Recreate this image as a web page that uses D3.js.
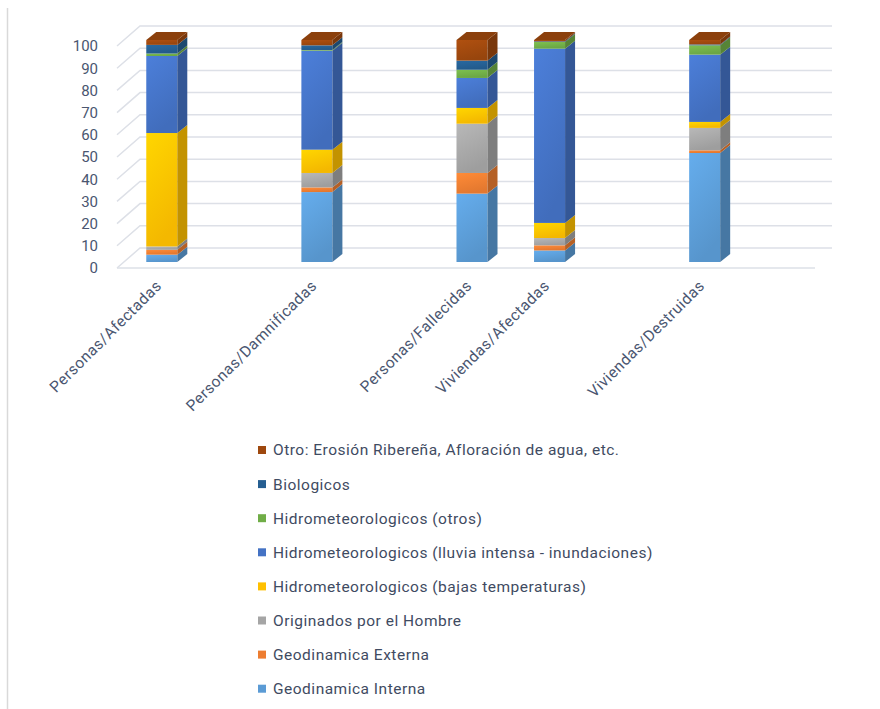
<!DOCTYPE html>
<html>
<head>
<meta charset="utf-8">
<style>
  body { margin: 0; background: #fff; }
  svg { display: block; font-family: Roboto, "Noto Sans", sans-serif; }
  .tick text { fill: #4a5670; }
</style>
<script src="https://d3js.org/d3.v7.min.js"></script>
</head>
<body>
<script>
// categories (blank slots are empty rows of the source sheet)
var categories = ["Personas/Afectadas", "", "Personas/Damnificadas", "", "Personas/Fallecidas",
                  "Viviendas/Afectadas", "", "Viviendas/Destruidas", ""];

var seriesNames = ["Geodinamica Interna", "Geodinamica Externa", "Originados por el Hombre",
  "Hidrometeorologicos (bajas temperaturas)", "Hidrometeorologicos (lluvia intensa - inundaciones)",
  "Hidrometeorologicos (otros)", "Biologicos", "Otro: Erosión Ribereña, Afloración de agua, etc."];

var colors = ["#5b9bd5", "#ed7d31", "#a5a5a5", "#ffc000", "#4472c4", "#70ad47", "#255e91", "#9e480e"];

// % per category, one array per series (null = empty slot)
var geoInterna  = [3.3, null, 31.5, null, 30.8, 5.2, null, 49.1, null];
var geoExterna  = [2.2, null, 2.1,  null, 9.3,  2.3, null, 1.2,  null];
var hombre      = [1.5, null, 6.5,  null, 22.2, 3.3, null, 10.1, null];
var bajasTemp   = [51.1, null, 10.5, null, 7.1, 6.8, null, 2.7,  null];
var lluvia      = [34.7, null, 44.6, null, 13.5, 78.5, null, 30.3, null];
var hidroOtros  = [1.1, null, 0.3,  null, 3.7,  3.0, null, 4.2,  null];
var biologicos  = [3.9, null, 2.1,  null, 4.1,  0.3, null, 0.4,  null];
var otro        = [2.2, null, 2.4,  null, 9.3,  0.6, null, 2.0,  null];

var yTicks = [0, 10, 20, 30, 40, 50, 60, 70, 80, 90, 100];

var series = [geoInterna, geoExterna, hombre, bajasTemp, lluvia, hidroOtros, biologicos, otro];

var width = 880, height = 709;
var wall = {dx: 23, dy: -20};   // back wall offset
var off = {dx: 6, dy: -6};      // bar front plane offset
var depth = {dx: 10, dy: -8};   // bar thickness

var svg = d3.select("body").append("svg")
  .attr("width", width).attr("height", height);

var defs = svg.append("defs");
colors.forEach(function(c, i) {
  var g = defs.append("linearGradient").attr("id", "g" + i)
    .attr("x1", 0).attr("y1", 0).attr("x2", 0.35).attr("y2", 1);
  g.append("stop").attr("offset", 0).attr("stop-color", d3.color(c).brighter(0.3));
  g.append("stop").attr("offset", 1).attr("stop-color", d3.color(c).darker(0.12));
});

// outer frame line on the left
svg.append("line").attr("x1", 7.5).attr("x2", 7.5).attr("y1", 8).attr("y2", height)
  .attr("stroke", "#d9d9d9").attr("stroke-width", 1.5);

var x = d3.scaleBand().domain(d3.range(categories.length)).range([117, 815])
  .paddingInner(0.6).paddingOuter(0.3);
var y = d3.scaleLinear().domain([0, 100]).range([268, 46]);

// gridlines: side diagonal + back wall
var grid = svg.append("g").attr("stroke", "#dde0e7").attr("stroke-width", 1.5).attr("fill", "none");
yTicks.forEach(function(t) {
  grid.append("path")
    .attr("d", "M117," + y(t) + "L" + (117 + wall.dx) + "," + (y(t) + wall.dy) + "H832");
});
grid.append("path").attr("d", "M117," + y(0) + "H815");

// y axis labels
var yAxis = d3.axisLeft(y).tickValues(yTicks).tickSize(0).tickPadding(0);
svg.append("g").attr("transform", "translate(98,0)").call(yAxis)
  .call(function(g) { g.select(".domain").remove(); })
  .selectAll("text").attr("font-size", 15).attr("font-family", "Roboto, sans-serif");

// stacked 3D bars
var stacked = categories.map(function(c, i) {
  var acc = 0;
  return series.map(function(s, k) {
    var v = s[i] || 0;
    var seg = {k: k, y0: acc, y1: acc + v, has: s[i] != null};
    acc += v;
    return seg;
  });
});

var bars = svg.append("g");
stacked.forEach(function(segs, i) {
  if (!segs.some(function(s) { return s.has; })) return;
  var x0 = x(i) + off.dx, x1 = x0 + x.bandwidth();
  var g = bars.append("g");
  segs.forEach(function(s) {
    if (s.y1 - s.y0 <= 0) return;
    var yb = y(s.y0) + off.dy, yt = y(s.y1) + off.dy;
    g.append("rect").attr("x", x0).attr("y", yt).attr("width", x1 - x0).attr("height", yb - yt)
      .attr("fill", "url(#g" + s.k + ")");
    g.append("path")
      .attr("d", "M" + x1 + "," + yb + "L" + (x1 + depth.dx) + "," + (yb + depth.dy) +
        "L" + (x1 + depth.dx) + "," + (yt + depth.dy) + "L" + x1 + "," + yt + "Z")
      .attr("fill", d3.color(colors[s.k]).darker(0.75));
  });
  var top = segs.filter(function(s) { return s.y1 - s.y0 > 0; }).pop();
  var yt = y(top.y1) + off.dy;
  g.append("path")
    .attr("d", "M" + x0 + "," + yt + "L" + (x0 + depth.dx) + "," + (yt + depth.dy) +
      "H" + (x1 + depth.dx) + "L" + x1 + "," + yt + "Z")
    .attr("fill", d3.color(colors[top.k]).darker(0.35));
});

// category labels, rotated
svg.append("g").selectAll("text")
  .data(categories)
  .join("text")
  .attr("transform", function(d, i) { return "translate(" + (x(i) + x.bandwidth() / 2 + 3) + ",283) rotate(-45)"; })
  .attr("text-anchor", "end")
  .attr("dy", "0.35em")
  .attr("font-size", 15.5)
  .attr("letter-spacing", "0.5px")
  .attr("fill", "#4a5670")
  .text(function(d) { return d; });

// legend (reverse order)
var legendItems = seriesNames.map(function(n, k) { return {name: n, k: k}; }).reverse();
var legend = svg.append("g").attr("transform", "translate(258,450)");
var row = legend.selectAll("g").data(legendItems).join("g")
  .attr("transform", function(d, i) { return "translate(0," + (i * 34.1) + ")"; });
row.append("rect").attr("x", 0).attr("y", -4).attr("width", 8).attr("height", 8)
  .attr("fill", function(d) { return colors[d.k]; });
row.append("text").attr("x", 15).attr("dy", "0.35em").attr("font-size", 15.5)
  .attr("letter-spacing", "0.5px")
  .attr("fill", "#3f4b62").text(function(d) { return d.name; });
</script>
</body>
</html>
